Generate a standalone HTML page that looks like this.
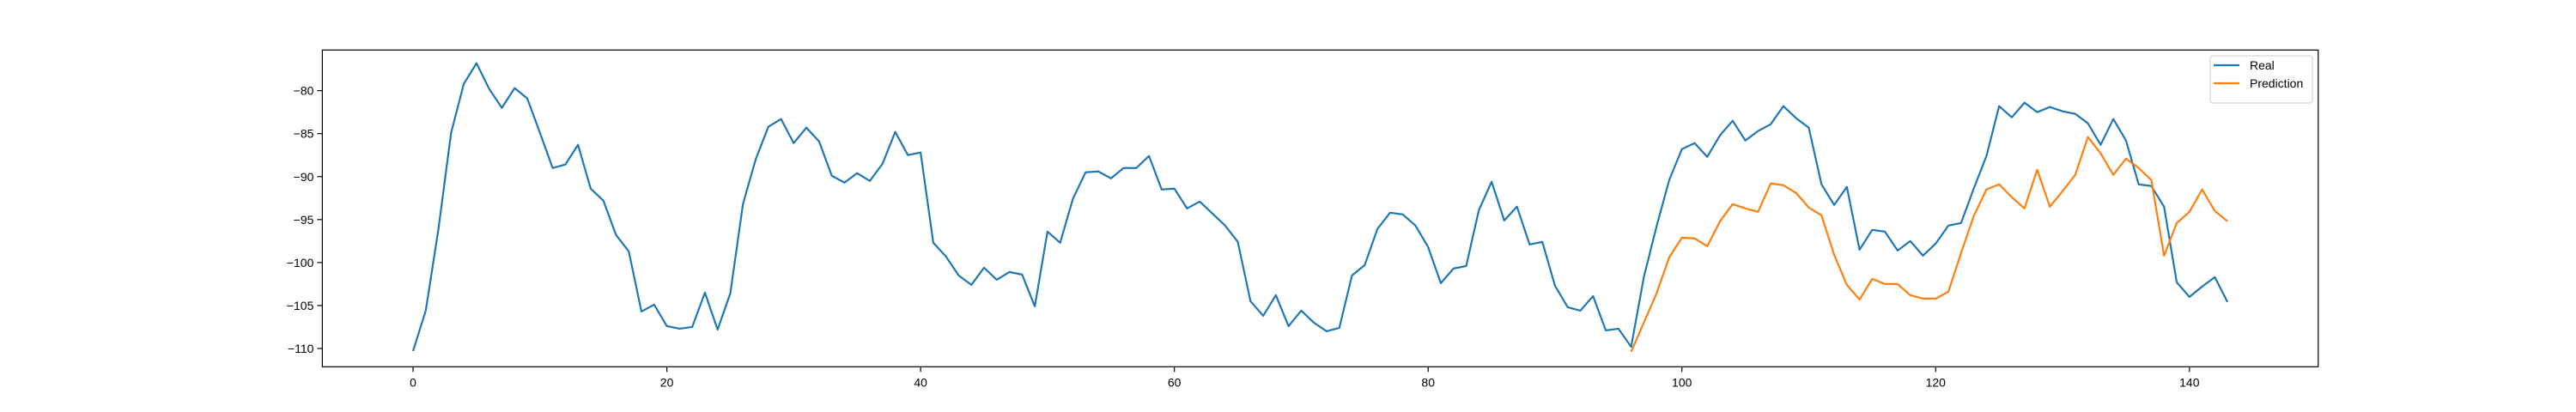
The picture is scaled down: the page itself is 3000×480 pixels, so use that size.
<!DOCTYPE html>
<html><head><meta charset="utf-8"><style>
body{margin:0;background:#fff}
svg{display:block;font-family:"Liberation Sans","DejaVu Sans",sans-serif}
</style></head><body>
<svg id="chart" width="3000" height="480" xmlns="http://www.w3.org/2000/svg">
<rect width="3000" height="480" fill="#fff"/>
<g id="plot"></g>
</svg>
<script>
const realValues=[-110.3,-105.6,-96.1,-84.9,-79.2,-76.8,-79.8,-82.0,-79.7,-80.9,-84.9,-89.0,-88.6,-86.3,-91.4,-92.8,-96.8,-98.7,-105.7,-104.9,-107.4,-107.7,-107.5,-103.5,-107.8,-103.6,-93.2,-88.0,-84.2,-83.3,-86.1,-84.3,-85.9,-89.9,-90.7,-89.6,-90.5,-88.5,-84.8,-87.5,-87.2,-97.7,-99.3,-101.5,-102.6,-100.6,-102.0,-101.1,-101.4,-105.1,-96.4,-97.7,-92.6,-89.5,-89.4,-90.2,-89.0,-89.0,-87.6,-91.5,-91.4,-93.7,-92.9,-94.3,-95.7,-97.6,-104.5,-106.2,-103.8,-107.4,-105.6,-107.0,-108.0,-107.6,-101.5,-100.3,-96.1,-94.2,-94.4,-95.7,-98.2,-102.4,-100.7,-100.4,-93.9,-90.6,-95.1,-93.5,-97.9,-97.6,-102.7,-105.2,-105.6,-103.9,-107.9,-107.7,-109.8,-101.7,-95.8,-90.4,-86.8,-86.1,-87.7,-85.2,-83.5,-85.8,-84.7,-83.9,-81.8,-83.2,-84.3,-90.9,-93.3,-91.2,-98.5,-96.2,-96.4,-98.6,-97.5,-99.2,-97.8,-95.7,-95.4,-91.4,-87.6,-81.8,-83.1,-81.4,-82.5,-81.9,-82.4,-82.7,-83.8,-86.3,-83.3,-85.8,-90.9,-91.1,-93.5,-102.3,-104.0,-102.8,-101.7,-104.6];
const predStart=96;
const predValues=[-110.4,-107.0,-103.6,-99.4,-97.1,-97.2,-98.1,-95.2,-93.2,-93.7,-94.1,-90.8,-91.0,-91.9,-93.6,-94.5,-99.1,-102.6,-104.3,-101.9,-102.5,-102.5,-103.8,-104.2,-104.2,-103.4,-98.9,-94.6,-91.5,-90.9,-92.4,-93.7,-89.2,-93.5,-91.7,-89.8,-85.4,-87.3,-89.8,-87.9,-89.0,-90.4,-99.2,-95.4,-94.1,-91.5,-94.0,-95.2];
const xTicks=[0,20,40,60,80,100,120,140];
const yTicks=[-80,-85,-90,-95,-100,-105,-110];

const L=375.4,R=2699.8,T=58.3,B=427.3;
const xMin=-7.15,xMax=150.15,yMin=-112.13,yMax=-75.27;
const X=v=>L+(v-xMin)/(xMax-xMin)*(R-L);
const Y=v=>B-(v-yMin)/(yMax-yMin)*(B-T);
const NS="http://www.w3.org/2000/svg";
const g=document.getElementById('plot');
function mk(tag,attrs,parent){const e=document.createElementNS(NS,tag);for(const k in attrs)e.setAttribute(k,attrs[k]);(parent||g).appendChild(e);return e;}

// series
let d=realValues.map((v,i)=>(i?'L':'M')+X(i).toFixed(2)+','+Y(v).toFixed(2)).join('');
const realLine=mk('path',{d:d,fill:'none',stroke:'#1f77b4','stroke-width':2.2,'stroke-linejoin':'round'});


d=predValues.map((v,i)=>(i?'L':'M')+X(i+predStart).toFixed(2)+','+Y(v).toFixed(2)).join('');
const predLine=mk('path',{d:d,fill:'none',stroke:'#ff7f0e','stroke-width':2.2,'stroke-linejoin':'round'});



// frame
const frame=mk('rect',{x:L,y:T,width:R-L,height:B-T,fill:'none',stroke:'#000','stroke-width':1.2});



xTicks.forEach(t=>{
  const tk=mk('line',{x1:X(t),x2:X(t),y1:B,y2:B+6,stroke:'#000','stroke-width':1.2});
  
  
  const tx=mk('text',{x:X(t),y:B+23,'font-size':14,'text-anchor':'middle',fill:'#000'});
  tx.textContent=t;
  
  
});
yTicks.forEach(t=>{
  const tk=mk('line',{x1:L-6,x2:L,y1:Y(t),y2:Y(t),stroke:'#000','stroke-width':1.2});
  
  
  const tx=mk('text',{x:L-10,y:Y(t)+5,'font-size':14,'text-anchor':'end',fill:'#000'});
  tx.textContent='\u2212'+Math.abs(t);
  
  
});

// legend
const lg=mk('g',{});


mk('rect',{x:2574,y:65,width:119,height:55,rx:3,fill:'#fff',stroke:'#ccc','stroke-width':1},lg);
[['Real','#1f77b4',76],['Prediction','#ff7f0e',97]].forEach(([lab,c,y])=>{
  const e=mk('g',{},lg);
  
  
  mk('line',{x1:2578,x2:2608,y1:y,y2:y,stroke:c,'stroke-width':2.2},e);
  const t=mk('text',{x:2620,y:y+5,'font-size':14,fill:'#000'},e);
  t.textContent=lab;
});
</script>
</body></html>
